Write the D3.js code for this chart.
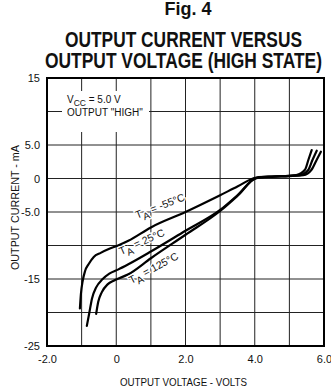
<!DOCTYPE html>
<html>
<head>
<meta charset="utf-8">
<script src="https://cdn.jsdelivr.net/npm/d3@7"></script>
<style>
  html, body { margin: 0; padding: 0; background: #fff; }
  svg { display: block; }
  text { fill: #111; }
</style>
</head>
<body>
<svg id="chart" width="331" height="390"></svg>
<script>
// ---- data ----
const seriesNames = ["-55°C", "25°C", "125°C"];

const voltsM55 = [-1.05, -1.02, -0.97, -0.90, -0.80, -0.65, -0.45, -0.20, 0.05, 0.35, 1.0, 2.0, 3.0, 3.5, 4.05, 4.5, 5.0, 5.2, 5.45, 5.55, 5.645];
const currentM55 = [-19.4, -17.2, -15.3, -13.8, -12.8, -11.7, -11.1, -10.5, -10.0, -9.3, -7.3, -5.0, -2.5, -1.2, 0.15, 0.3, 0.4, 0.5, 1.3, 2.8, 4.25];

const volts25 = [-0.85, -0.78, -0.70, -0.58, -0.40, -0.20, 0.05, 0.35, 1.0, 2.0, 3.0, 3.5, 4.05, 4.5, 5.0, 5.3, 5.55, 5.67, 5.79];
const current25 = [-22.0, -20.1, -17.9, -16.25, -15.05, -14.2, -13.6, -12.8, -10.9, -7.8, -4.7, -2.5, 0.1, 0.3, 0.4, 0.5, 1.3, 2.8, 4.15];

const volts125 = [-0.58, -0.52, -0.42, -0.25, -0.05, 0.35, 1.0, 2.0, 3.0, 3.5, 4.05, 4.5, 5.0, 5.4, 5.64, 5.79, 5.91];
const current125 = [-20.2, -18.4, -17.0, -15.8, -15.2, -14.3, -11.9, -8.4, -4.85, -2.6, 0.05, 0.25, 0.35, 0.5, 1.3, 2.8, 4.0];

const xTickValues = [-2, 0, 2, 4, 6];
const xTickLabels = ["-2.0", "0", "2.0", "4.0", "6.0"];
const yTickValues = [15, 5, 0, -5, -15, -25];
const yTickLabels = ["15", "5.0", "0", "-5.0", "-15", "-25"];
const xGridValues = [-1, 0, 1, 2, 3, 4, 5];
const yGridValues = [10, 5, 0, -5, -10, -15, -20];

// ---- layout ----
const svg = d3.select("#chart");
const pL = 47, pR = 324, pT = 78, pB = 346;
const x = d3.scaleLinear().domain([-2, 6]).range([pL, pR]);
const y = d3.scaleLinear().domain([-25, 15]).range([pB, pT]);
const font = "'Liberation Sans', Arial, sans-serif";

// Titles
svg.append("text").attr("x", 188).attr("y", 15).attr("text-anchor", "middle")
  .attr("font-family", font).attr("font-weight", "bold").attr("font-size", 18)
  .text("Fig. 4");
svg.append("text").attr("x", 183.5).attr("y", 47).attr("text-anchor", "middle")
  .attr("font-family", "'Liberation Sans Narrow', " + font).attr("font-weight", "bold").attr("font-size", 22)
  .attr("textLength", 237).attr("lengthAdjust", "spacingAndGlyphs").text("OUTPUT CURRENT VERSUS");
svg.append("text").attr("x", 183.5).attr("y", 68).attr("text-anchor", "middle")
  .attr("font-family", "'Liberation Sans Narrow', " + font).attr("font-weight", "bold").attr("font-size", 22)
  .attr("textLength", 277).attr("lengthAdjust", "spacingAndGlyphs").text("OUTPUT VOLTAGE (HIGH STATE)");

// Grid
const grid = svg.append("g").attr("stroke", "#222").attr("stroke-width", 1);
grid.selectAll("line.v").data(xGridValues).join("line").attr("class", "v")
  .attr("x1", d => x(d)).attr("x2", d => x(d)).attr("y1", pT).attr("y2", pB);
grid.selectAll("line.h").data(yGridValues).join("line").attr("class", "h")
  .attr("x1", pL).attr("x2", pR).attr("y1", d => y(d)).attr("y2", d => y(d));

// Info box (covers grid)
svg.append("rect").attr("x", 62).attr("y", 91).attr("width", 87).attr("height", 41).attr("fill", "#fff");
const info = svg.append("text").attr("font-family", font).attr("font-size", 10);
const l1 = info.append("tspan").attr("x", 67).attr("y", 103);
l1.append("tspan").text("V");
l1.append("tspan").attr("font-size", 8.5).attr("dy", 2.5).text("CC");
l1.append("tspan").attr("dy", -2.5).text(" = 5.0 V");
info.append("tspan").attr("x", 67).attr("y", 116).text("OUTPUT \"HIGH\"");

// Border
svg.append("rect").attr("x", pL).attr("y", pT).attr("width", pR - pL).attr("height", pB - pT)
  .attr("fill", "none").attr("stroke", "#000").attr("stroke-width", 2);

// Axes labels via d3 axes
const xAxis = d3.axisBottom(x).tickValues(xTickValues).tickSize(0).tickPadding(7)
  .tickFormat((d, i) => xTickLabels[i]);
const gx = svg.append("g").attr("transform", `translate(0,${pB + 2})`).call(xAxis);
gx.select(".domain").remove();
gx.selectAll("text").attr("font-family", font).attr("font-size", 11).attr("fill", "#111");

const yAxis = d3.axisLeft(y).tickValues(yTickValues).tickSize(0).tickPadding(7)
  .tickFormat((d, i) => yTickLabels[i]);
const gy = svg.append("g").attr("transform", `translate(${pL},0)`).call(yAxis);
gy.select(".domain").remove();
gy.selectAll("text").attr("font-family", font).attr("font-size", 11).attr("fill", "#111");

svg.append("text").attr("x", 183.5).attr("y", 386).attr("text-anchor", "middle")
  .attr("font-family", font).attr("font-size", 10.5)
  .attr("textLength", 127).attr("lengthAdjust", "spacingAndGlyphs").text("OUTPUT VOLTAGE - VOLTS");
svg.append("text").attr("transform", "translate(18.5,207.5) rotate(-90)").attr("text-anchor", "middle")
  .attr("font-family", font).attr("font-size", 10.5)
  .attr("textLength", 125).attr("lengthAdjust", "spacingAndGlyphs").text("OUTPUT CURRENT - mA");

// Curves
const series = [
  { name: seriesNames[0], v: voltsM55, i: currentM55 },
  { name: seriesNames[1], v: volts25, i: current25 },
  { name: seriesNames[2], v: volts125, i: current125 }
];
const line = d3.line().x(d => x(d[0])).y(d => y(d[1])).curve(d3.curveMonotoneX);
svg.append("g").selectAll("path").data(series).join("path")
  .attr("d", s => line(s.v.map((v, k) => [v, s.i[k]])))
  .attr("fill", "none").attr("stroke", "#000").attr("stroke-width", 2.2)
  .attr("stroke-linejoin", "round").attr("stroke-linecap", "round");

// Curve labels
const labelAnchors = [[0.60, -6.0, -21], [0.14, -11.4, -24], [0.43, -15.75, -28]];
series.forEach((s, k) => {
  const [lv, li, rot] = labelAnchors[k];
  const t = svg.append("text")
    .attr("transform", `translate(${x(lv)},${y(li)}) rotate(${rot})`)
    .attr("font-family", font).attr("font-size", 10.5)
    .attr("stroke", "#fff").attr("stroke-width", 2.5).attr("paint-order", "stroke");
  t.append("tspan").text("T");
  t.append("tspan").attr("dy", 4).attr("font-size", 10).text("A");
  t.append("tspan").attr("dy", -4).text(" = " + s.name);
});
</script>
</body>
</html>
